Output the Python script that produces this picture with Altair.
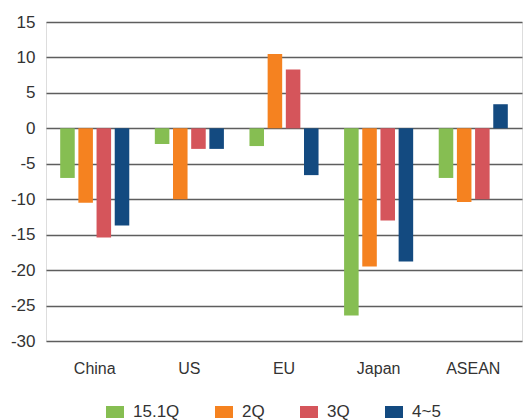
import altair as alt
import pandas as pd

# Year-on-year change by destination and period
regions = ["China", "US", "EU", "Japan", "ASEAN"]
periods = ["15.1Q", "2Q", "3Q", "4~5"]
v_1q = [-7.0, -2.2, -2.5, -26.4, -7.0]
v_2q = [-10.5, -10.0, 10.5, -19.5, -10.4]
v_3q = [-15.4, -2.9, 8.3, -13.0, -10.0]
v_45 = [-13.7, -2.9, -6.6, -18.8, 3.4]
colors = ["#86BE52", "#F58220", "#D5555B", "#134A80"]
y_ticks = [15, 10, 5, 0, -5, -10, -15, -20, -25, -30]

series = [v_1q, v_2q, v_3q, v_45]
rows = []
for p, vals in zip(periods, series):
    for r, v in zip(regions, vals):
        rows.append({"region": r, "period": p, "value": v})
df = pd.DataFrame(rows)

font = "Liberation Sans"

chart = (
    alt.Chart(df)
    .mark_bar()
    .encode(
        x=alt.X(
            "region:N",
            sort=regions,
            title=None,
            scale=alt.Scale(paddingInner=0.27, paddingOuter=0.15),
            axis=alt.Axis(
                labelAngle=0,
                labelFont=font,
                labelFontSize=16,
                labelColor="#333333",
                labelPadding=19,
                domain=False,
                ticks=False,
                grid=False,
            ),
        ),
        xOffset=alt.XOffset(
            "period:N",
            sort=periods,
            scale=alt.Scale(paddingInner=0.2, paddingOuter=0),
        ),
        y=alt.Y(
            "value:Q",
            title=None,
            scale=alt.Scale(domain=[-30, 15], nice=False, zero=False),
            axis=alt.Axis(
                values=y_ticks,
                labelFont=font,
                labelFontSize=17,
                labelColor="#333333",
                labelPadding=11,
                labelExpr="datum.value < 0 ? '-' + abs(datum.value) : '' + datum.value",
                domain=False,
                ticks=False,
                grid=True,
                gridColor="#5e5e5e",
                gridWidth=1.6,
            ),
        ),
        color=alt.Color(
            "period:N",
            sort=periods,
            scale=alt.Scale(domain=periods, range=colors),
            legend=alt.Legend(
                title=None,
                orient="none",
                direction="horizontal",
                legendX=60,
                legendY=381,
                symbolType="M-1,-0.67L1,-0.67L1,0.67L-1,0.67Z",
                symbolSize=324,
                symbolStrokeWidth=0,
                symbolOpacity=1,
                labelFont=font,
                labelFontSize=17,
                labelColor="#333333",
                labelOffset=9,
                columnPadding=35,
                padding=0,
            ),
        ),
    )
    .properties(
        width=476,
        height=319,
        autosize=alt.AutoSizeParams(type="none"),
        padding={"left": 46, "top": 22, "right": 3, "bottom": 79},
    )
    .configure_view(stroke=None)
    .configure(background="white")
)

chart.save("out.html", embed_options={"renderer": "svg", "actions": False})
